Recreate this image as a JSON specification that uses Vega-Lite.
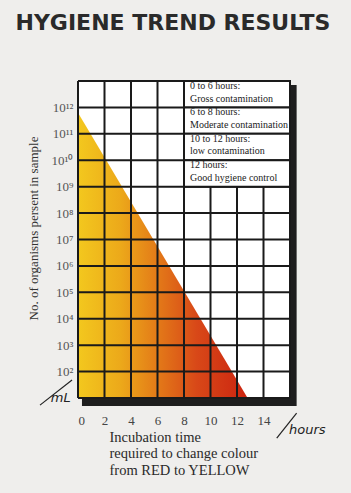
{
  "$schema": "https://vega.github.io/schema/vega-lite/v6.json",
  "width": 212,
  "height": 317,
  "autosize": "none",
  "padding": {"left": 78, "top": 81, "right": 61, "bottom": 95},
  "background": "#efeeec",
  "config": {"view": {"stroke": null}, "font": "Liberation Serif"},
  "title": {
    "text": "HYGIENE TREND RESULTS",
    "anchor": "middle",
    "frame": "group",
    "dx": -11,
    "offset": 28,
    "baseline": "alphabetic",
    "font": "DejaVu Sans",
    "fontWeight": "bold",
    "fontSize": 22,
    "color": "#2a2a2a"
  },
  "datasets": {
    "shadow": [{"x": 0.3, "x2": 16.5, "y": 0.7, "y2": 12.85}],
    "plot": [{"x": 0, "x2": 16, "y": 1, "y2": 13}],
    "tri": [{"x": 0, "y": 11.8}, {"x": 12.8, "y": 1}],
    "grid": [
      {"x": 0, "x2": 0, "y": 1, "y2": 13},
      {"x": 2, "x2": 2, "y": 1, "y2": 13},
      {"x": 4, "x2": 4, "y": 1, "y2": 13},
      {"x": 6, "x2": 6, "y": 1, "y2": 13},
      {"x": 8, "x2": 8, "y": 1, "y2": 13},
      {"x": 10, "x2": 10, "y": 1, "y2": 13},
      {"x": 12, "x2": 12, "y": 1, "y2": 13},
      {"x": 14, "x2": 14, "y": 1, "y2": 13},
      {"x": 16, "x2": 16, "y": 1, "y2": 13},
      {"x": 0, "x2": 16, "y": 1, "y2": 1},
      {"x": 0, "x2": 16, "y": 2, "y2": 2},
      {"x": 0, "x2": 16, "y": 3, "y2": 3},
      {"x": 0, "x2": 16, "y": 4, "y2": 4},
      {"x": 0, "x2": 16, "y": 5, "y2": 5},
      {"x": 0, "x2": 16, "y": 6, "y2": 6},
      {"x": 0, "x2": 16, "y": 7, "y2": 7},
      {"x": 0, "x2": 16, "y": 8, "y2": 8},
      {"x": 0, "x2": 16, "y": 9, "y2": 9},
      {"x": 0, "x2": 16, "y": 10, "y2": 10},
      {"x": 0, "x2": 16, "y": 11, "y2": 11},
      {"x": 0, "x2": 16, "y": 12, "y2": 12},
      {"x": 0, "x2": 16, "y": 13, "y2": 13}
    ],
    "boxes": [
      {"x": 8, "x2": 16, "y": 12, "y2": 13},
      {"x": 8, "x2": 16, "y": 11, "y2": 12},
      {"x": 8, "x2": 16, "y": 10, "y2": 11},
      {"x": 8, "x2": 16, "y": 9, "y2": 10}
    ],
    "boxtext": [
      {"x": 8, "y": 13, "t": "0 to 6 hours:|Gross contamination"},
      {"x": 8, "y": 12, "t": "6 to 8 hours:|Moderate contamination"},
      {"x": 8, "y": 11, "t": "10 to 12 hours:|low contamination"},
      {"x": 8, "y": 10, "t": "12 hours:|Good hygiene control"}
    ],
    "slashes": [
      {"x": -2.87, "x2": -0.45, "y": 0.73, "y2": 1.68},
      {"x": 15.0, "x2": 16.5, "y": -0.52, "y2": 0.43}
    ],
    "hand": [
      {"x": -1.3, "y": 0.85, "t": "mL"},
      {"x": 17.3, "y": -0.36, "t": "hours"}
    ]
  },
  "encoding": {
    "x": {
      "field": "x",
      "type": "quantitative",
      "scale": {"domain": [0, 16], "nice": false, "zero": false},
      "axis": {
        "values": [0, 2, 4, 6, 8, 10, 12, 14],
        "domain": false,
        "ticks": false,
        "grid": false,
        "labelFont": "Liberation Serif",
        "labelFontSize": 13,
        "labelColor": "#444444",
        "labelPadding": 16,
        "title": ["Incubation time", "required to change colour", "from RED to YELLOW"],
        "titleFont": "Liberation Serif",
        "titleFontSize": 14.5,
        "titleFontWeight": "normal",
        "titleColor": "#2a2a2a",
        "titleLineHeight": 16.5,
        "titleAlign": "left",
        "titleAnchor": "start",
        "titleBaseline": "top",
        "titleX": 31,
        "titleY": 32
      }
    },
    "y": {
      "field": "y",
      "type": "quantitative",
      "scale": {"domain": [1, 13], "nice": false, "zero": false},
      "axis": {
        "values": [2, 3, 4, 5, 6, 7, 8, 9, 10, 11, 12],
        "labelExpr": "['10⁰','10¹','10²','10³','10⁴','10⁵','10⁶','10⁷','10⁸','10⁹','10¹⁰','10¹¹','10¹²'][datum.value]",
        "domain": false,
        "ticks": false,
        "grid": false,
        "labelFont": "Liberation Serif",
        "labelFontSize": 13,
        "labelColor": "#555555",
        "labelPadding": 5,
        "title": "No. of organisms persent in sample",
        "titleFont": "Liberation Serif",
        "titleFontSize": 13,
        "titleFontWeight": "normal",
        "titleColor": "#333333",
        "titleX": -45,
        "titleY": 147,
        "titleAlign": "center",
        "titleBaseline": "middle"
      }
    }
  },
  "layer": [
    {"data": {"name": "shadow"}, "mark": {"type": "rect", "fill": "#1e1e1e"}, "encoding": {"x2": {"field": "x2"}, "y2": {"field": "y2"}}},
    {"data": {"name": "plot"}, "mark": {"type": "rect", "fill": "#ffffff"}, "encoding": {"x2": {"field": "x2"}, "y2": {"field": "y2"}}},
    {
      "data": {"name": "tri"},
      "mark": {
        "type": "area",
        "fill": {
          "gradient": "linear",
          "x1": 0, "y1": 0, "x2": 1, "y2": 0,
          "stops": [
            {"offset": 0, "color": "#f3c81e"},
            {"offset": 0.25, "color": "#eca91a"},
            {"offset": 0.45, "color": "#e47e18"},
            {"offset": 0.7, "color": "#d84818"},
            {"offset": 1, "color": "#cc2410"}
          ]
        }
      },
      "encoding": {"y2": {"datum": 1}}
    },
    {"data": {"name": "grid"}, "mark": {"type": "rule", "stroke": "#1a1a1a", "strokeWidth": 2}, "encoding": {"x2": {"field": "x2"}, "y2": {"field": "y2"}}},
    {"data": {"name": "boxes"}, "mark": {"type": "rect", "fill": "#ffffff", "stroke": "#1a1a1a", "strokeWidth": 2}, "encoding": {"x2": {"field": "x2"}, "y2": {"field": "y2"}}},
    {
      "data": {"name": "boxtext"},
      "mark": {"type": "text", "align": "left", "baseline": "alphabetic", "dx": 6, "dy": 8, "fontSize": 10, "lineHeight": 12.5, "lineBreak": "|", "color": "#222222", "font": "Liberation Serif"},
      "encoding": {"text": {"field": "t"}}
    },
    {"data": {"name": "slashes"}, "mark": {"type": "rule", "stroke": "#222222", "strokeWidth": 1.2}, "encoding": {"x2": {"field": "x2"}, "y2": {"field": "y2"}}},
    {
      "data": {"name": "hand"},
      "mark": {"type": "text", "font": "DejaVu Sans", "fontStyle": "italic", "fontSize": 13, "align": "center", "baseline": "alphabetic", "color": "#222222"},
      "encoding": {"text": {"field": "t"}}
    }
  ]
}
